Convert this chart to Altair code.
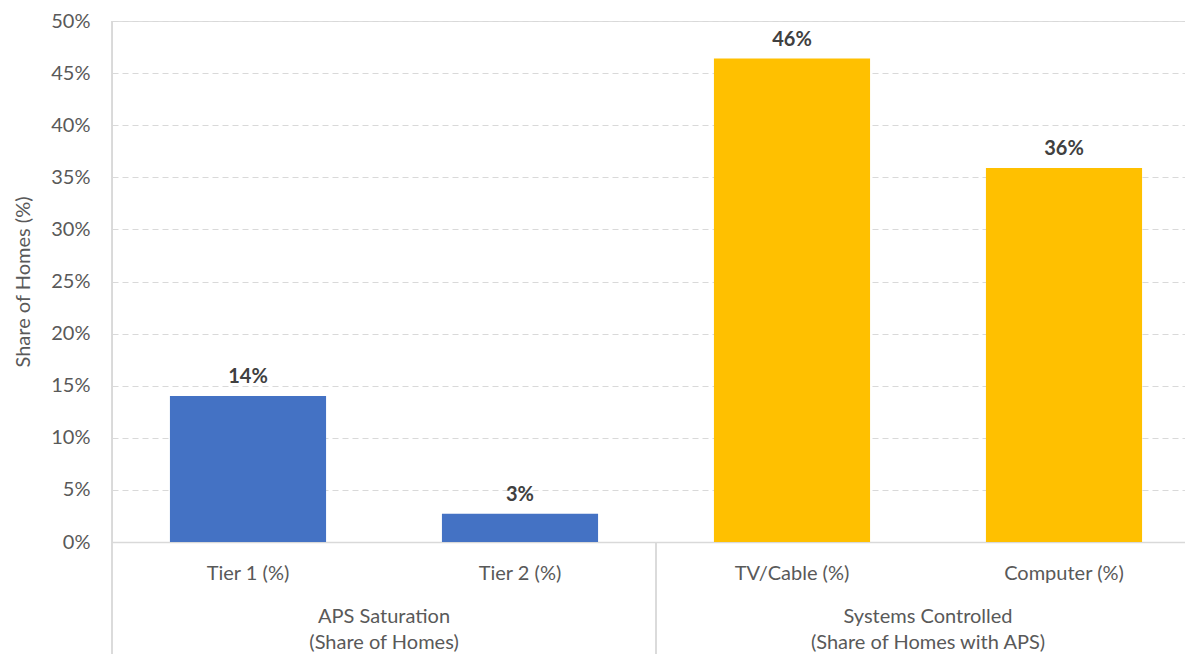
import altair as alt
import pandas as pd

categories = ["Tier 1 (%)", "Tier 2 (%)", "TV/Cable (%)", "Computer (%)"]
values = [0.14, 0.027, 0.464, 0.359]
groups = ["APS Saturation", "APS Saturation", "Systems Controlled", "Systems Controlled"]
group_names = ["APS Saturation", "Systems Controlled"]
group_first_cat = ["Tier 1 (%)", "TV/Cable (%)"]
group_labels = ["APS Saturation\n(Share of Homes)", "Systems Controlled\n(Share of Homes with APS)"]
colors = ["#4472C4", "#FFC000"]
y_ticks = [0, 0.05, 0.10, 0.15, 0.20, 0.25, 0.30, 0.35, 0.40, 0.45, 0.50]

df = pd.DataFrame({"cat": categories, "val": values, "group": groups})
gdf = pd.DataFrame({"cat": group_first_cat, "label": group_labels})

FONT = "Lato"
FS = 20
W, H = 1073, 521
STEP = 272
GRID = "#d9d9d9"
TXT = "#595959"

xscale = alt.Scale(domain=categories, range=[0, STEP * 4], paddingInner=0.426, paddingOuter=0.213)

base = alt.Chart(df)

bars = base.mark_bar().encode(
    x=alt.X("cat:N", sort=categories, scale=xscale,
            axis=alt.Axis(title=None, labelAngle=0, labelFontSize=FS, labelColor=TXT, labelFont=FONT,
                          labelPadding=21, ticks=False, domain=True, domainColor=GRID, domainWidth=1.5,
                          grid=False)),
    y=alt.Y("val:Q", scale=alt.Scale(domain=[0, 0.5], nice=False),
            axis=alt.Axis(title="Share of Homes (%)", values=y_ticks, format=".0%", labelFontSize=FS,
                          labelColor=TXT, labelFont=FONT, labelPadding=22, ticks=False, domain=False,
                          grid=True, gridColor=GRID, gridDash=[6, 4], gridWidth=1.2,
                          titleFontSize=FS, titleFont=FONT, titleColor=TXT, titleFontWeight="normal",
                          titlePadding=17)),
    color=alt.Color("group:N", scale=alt.Scale(domain=group_names, range=colors), legend=None),
)

labels = base.mark_text(fontWeight="bold", fontSize=FS, font=FONT, color="#404040",
                        baseline="bottom", dy=-9).encode(
    x=alt.X("cat:N", sort=categories, scale=xscale),
    y=alt.Y("val:Q"),
    text=alt.Text("val:Q", format=".0%"),
)

group_text = alt.Chart(gdf).mark_text(fontSize=FS, font=FONT, color=TXT, baseline="top",
                                      lineBreak="\n", lineHeight=26, dx=STEP / 2).encode(
    x=alt.X("cat:N", sort=categories, scale=xscale),
    y=alt.value(H + 65),
    text="label:N",
)

left_line = alt.Chart(gdf).mark_rule(color=GRID, strokeWidth=1.5).encode(
    x=alt.value(0), y=alt.value(0), y2=alt.value(H + 130)
)
sep_line = alt.Chart(gdf).mark_rule(color=GRID, strokeWidth=1.5).encode(
    x=alt.value(STEP * 2), y=alt.value(H), y2=alt.value(H + 130)
)

chart = alt.layer(bars, labels, group_text, left_line, sep_line).properties(
    width=W, height=H,
    autosize=alt.AutoSizeParams(type="none"),
    padding={"left": 104, "top": 13, "right": 0, "bottom": 112},
).configure_view(stroke=None).configure(font=FONT)

chart.save("out.html", embed_options={"renderer": "svg", "actions": False})
